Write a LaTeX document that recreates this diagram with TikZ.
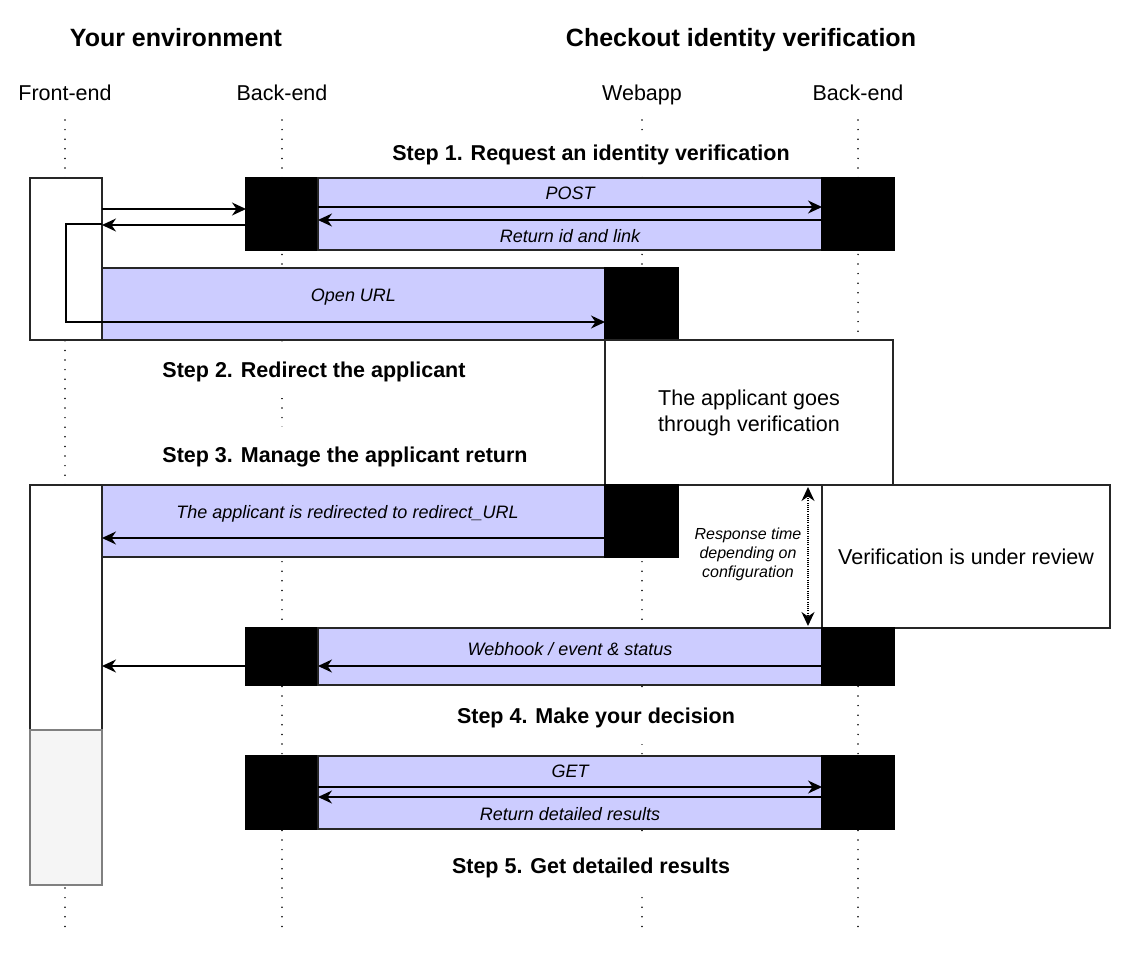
\documentclass[tikz,border=0pt]{standalone}
\usepackage{fontspec}
\setmainfont{Liberation Sans}
\usetikzlibrary{arrows.meta}
\definecolor{lilac}{HTML}{CCCCFF}
\definecolor{greyfill}{HTML}{F5F5F5}
\definecolor{greyline}{HTML}{808080}
\begin{document}
\begin{tikzpicture}[x=1pt,y=-1pt,
  every node/.style={inner sep=0pt, outer sep=0pt},
  title/.style={font=\fontsize{25}{30}\selectfont\bfseries, text height=18pt, text depth=0pt},
  colhead/.style={font=\fontsize{21.5}{26}\selectfont, text height=15.4pt, text depth=0pt},
  steplabel/.style={font=\fontsize{21.5}{26}\selectfont\bfseries, fill=white, minimum height=56pt,
    text height=15.4pt, text depth=0pt},
  msg/.style={font=\fontsize{18}{22}\selectfont\itshape},
  actbox/.style={draw=black, fill=black, line width=1.2pt, minimum width=72pt},
  band/.style={draw=black!85, fill=lilac, line width=1.2pt},
  plainbox/.style={draw=black!85, fill=white, line width=1.2pt, align=center,
    font=\fontsize{21.5}{26}\selectfont},
  lifeline/.style={line width=1.7pt, dash pattern=on 0pt off 9.6pt, line cap=round},
  call/.style={line width=1.5pt, -{Stealth[length=14pt,width=13pt,inset=4.5pt]}},
]
\useasboundingbox (0,0) rectangle (1126,956);

% headings
\node[title] (envT) at (176,37) {Your environment};
\node[title] (chkT) at (741,37) {Checkout identity verification};
\node[colhead] (feH) at (65,93) {Front-end};
\node[colhead] (beH) at (282,93) {Back-end};
\node[colhead] (waH) at (642,93) {Webapp};
\node[colhead] (cbH) at (858,93) {Back-end};

% lifelines
\coordinate (lifeEnd) at (0,928);
\foreach \h in {feH,beH,waH,cbH}
  \draw[lifeline] ([yshift=-27pt]\h.center) -- (\h.center |- lifeEnd);

% step 1
\node[steplabel, minimum height=42pt] (s1) at (591,153) {Step 1. Request an identity verification};
\node[plainbox, minimum width=72pt, minimum height=162pt] (fe1) at (66,259) {};
\node[actbox, minimum height=72pt] (be1) at (282,214) {};
\node[band, minimum width=504pt, minimum height=72pt] (band1) at (570,214) {};
\node[actbox, minimum height=72pt] (cb1) at (858,214) {};
\node[band, minimum width=503pt, minimum height=72pt] (band2) at (353.5,304) {};
\node[actbox, minimum width=73pt, minimum height=72pt] (wa2) at (641.5,304) {};

\draw[call] ([yshift=5pt]be1.west -| fe1.east) -- ([yshift=5pt]be1.west);
\draw[call] ([yshift=-11pt]be1.west) -- ([yshift=-11pt]be1.west -| fe1.east);
\draw[call] ([yshift=7pt]band1.west) -- ([yshift=7pt]band1.east);
\node[msg] (postL) at ([yshift=21pt]band1.center) {POST};
\draw[call] ([yshift=-6pt]band1.east) -- ([yshift=-6pt]band1.west);
\node[msg] (retL) at ([yshift=-22pt]band1.center) {Return id and link};
\draw[call] ([yshift=35pt]fe1.east) -- ([yshift=35pt]fe1.center) |- ([yshift=-18pt]wa2.west);
\node[msg] (urlL) at ([yshift=7pt]band2.center) {Open URL};

% step 2
\node[steplabel] (s2) at (314,370) {Step 2. Redirect the applicant};
\node[plainbox, minimum width=288pt, minimum height=145pt] (verif) at (749,412.5) {\raisebox{-2pt}{The applicant goes}\\\raisebox{-2pt}{through verification}};

% step 3
\node[steplabel] (s3) at (345,455) {Step 3. Manage the applicant return};
\node[plainbox, minimum width=72pt, minimum height=245pt] (fe3) at (66,607.5) {};
\node[draw=greyline, fill=greyfill, line width=1.2pt, minimum width=72pt, minimum height=155pt] (fe3b) at (66,807.5) {};
\node[band, minimum width=503pt, minimum height=72pt] (band3) at (353.5,521) {};
\node[actbox, minimum width=73pt, minimum height=72pt] (wa3) at (641.5,521) {};
\node[plainbox, minimum width=288pt, minimum height=143pt] (review) at (966,556.5) {Verification is under review};

\draw[call] ([yshift=-17pt]wa3.west) -- ([yshift=-17pt]wa3.west -| fe3.east);
\node[msg] (redirL) at ([yshift=7pt,xshift=-6pt]band3.center) {The applicant is redirected to redirect\_URL};
\draw[line width=1.5pt, dash pattern=on 1pt off 1.2pt, {Stealth[length=14pt,width=13pt,inset=4.5pt]}-{Stealth[length=14pt,width=13pt,inset=4.5pt]}]
  ([xshift=-14pt,yshift=-2pt]review.north west) -- ([xshift=-14pt,yshift=2pt]review.south west);
\node[msg, font=\fontsize{16}{19}\selectfont\itshape, align=center] (rtL) at (748,554) {Response time\\depending on\\configuration};

% step 4
\node[actbox, minimum height=57pt] (be4) at (282,656.5) {};
\node[band, minimum width=504pt, minimum height=57pt] (band4) at (570,656.5) {};
\node[actbox, minimum height=57pt] (cb4) at (858,656.5) {};
\draw[call] ([yshift=-9.5pt]band4.east) -- ([yshift=-9.5pt]band4.west);
\node[msg] (hookL) at ([yshift=7.5pt]band4.center) {Webhook / event \& status};
\draw[call] ([yshift=-9.5pt]be4.west) -- ([yshift=-9.5pt]be4.west -| fe3.east);
\node[steplabel] (s4) at (596,716) {Step 4. Make your decision};

% step 5
\node[actbox, minimum height=73pt] (be5) at (282,792.5) {};
\node[band, minimum width=504pt, minimum height=73pt] (band5) at (570,792.5) {};
\node[actbox, minimum height=73pt] (cb5) at (858,792.5) {};
\draw[call] ([yshift=5.5pt]band5.west) -- ([yshift=5.5pt]band5.east);
\node[msg] (getL) at ([yshift=21.5pt]band5.center) {GET};
\draw[call] ([yshift=-4.5pt]band5.east) -- ([yshift=-4.5pt]band5.west);
\node[msg] (detL) at ([yshift=-21.5pt]band5.center) {Return detailed results};
\node[steplabel] (s5) at (591,866) {Step 5. Get detailed results};
\end{tikzpicture}
\end{document}
